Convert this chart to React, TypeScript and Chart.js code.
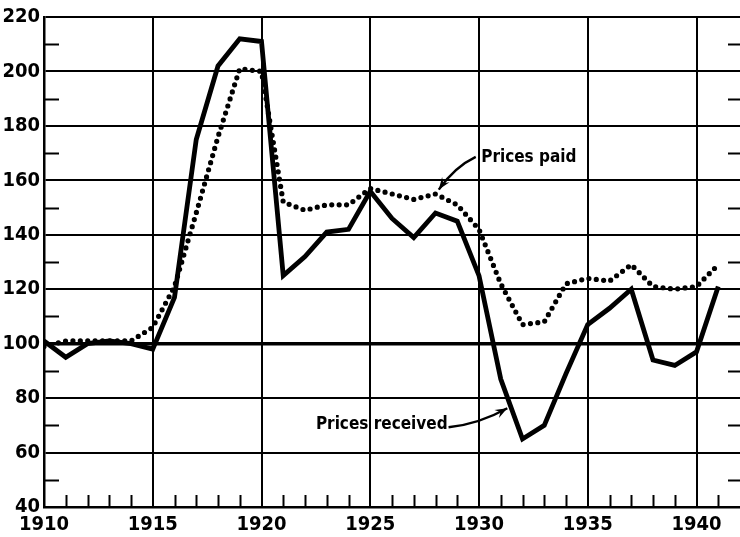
import { useEffect, useRef } from 'react';
import { Chart, registerables } from 'chart.js';

Chart.register(...registerables);

const years = [1910, 1911, 1912, 1913, 1914, 1915, 1916, 1917, 1918, 1919, 1920, 1921, 1922, 1923, 1924, 1925, 1926, 1927, 1928, 1929, 1930, 1931, 1932, 1933, 1934, 1935, 1936, 1937, 1938, 1939, 1940, 1941];
const pricesReceived = [101, 95, 100, 101, 100, 98, 117, 175, 202, 212, 211, 125, 132, 141, 142, 156, 146, 139, 148, 145, 125, 87, 65, 70, 89, 107, 113, 120, 94, 92, 97, 121];
const pricesPaid = [99, 101, 101, 101, 101, 106, 121, 148, 176, 201, 200, 152, 149, 151, 151, 157, 155, 153, 155, 151, 142, 122, 107, 108, 122, 124, 123, 129, 121, 120, 121, 129];
const xTickLabels = [1910, 1915, 1920, 1925, 1930, 1935, 1940];
const yTickLabels = [40, 60, 80, 100, 120, 140, 160, 180, 200, 220];
const labelPaid = 'Prices paid';
const labelReceived = 'Prices received';

const FONT = "'DejaVu Sans Condensed', 'Liberation Sans Narrow', 'DejaVu Sans', sans-serif";

function drawArrow(ctx: CanvasRenderingContext2D, x0: number, y0: number, cx: number, cy: number, x1: number, y1: number) {
  ctx.save();
  ctx.strokeStyle = '#000';
  ctx.fillStyle = '#000';
  ctx.lineWidth = 2.4;
  ctx.beginPath();
  ctx.moveTo(x0, y0);
  ctx.quadraticCurveTo(cx, cy, x1, y1);
  ctx.stroke();
  const ang = Math.atan2(y1 - cy, x1 - cx);
  const len = 13;
  const spread = 0.36;
  ctx.beginPath();
  ctx.moveTo(x1, y1);
  ctx.lineTo(x1 - len * Math.cos(ang - spread), y1 - len * Math.sin(ang - spread));
  ctx.lineTo(x1 - len * 0.6 * Math.cos(ang), y1 - len * 0.6 * Math.sin(ang));
  ctx.lineTo(x1 - len * Math.cos(ang + spread), y1 - len * Math.sin(ang + spread));
  ctx.closePath();
  ctx.fill();
  ctx.restore();
}

const decorPlugin = {
  id: 'decor',
  beforeDatasetsDraw(chart: any) {
    const { ctx, chartArea, scales } = chart;
    const xs = scales.x;
    const ys = scales.y;
    ctx.save();
    ctx.strokeStyle = '#000';
    ctx.lineWidth = 2;
    for (let yr = 1911; yr <= 1941; yr++) {
      if (yr % 5 === 0) continue;
      const px = Math.round(xs.getPixelForValue(yr)) + 0.5;
      ctx.beginPath();
      ctx.moveTo(px, chartArea.bottom);
      ctx.lineTo(px, chartArea.bottom - 12);
      ctx.stroke();
    }
    for (let v = 50; v <= 210; v += 20) {
      const py = Math.round(ys.getPixelForValue(v)) + 0.5;
      ctx.beginPath();
      ctx.moveTo(chartArea.left, py);
      ctx.lineTo(chartArea.left + 15, py);
      ctx.stroke();
      ctx.beginPath();
      ctx.moveTo(chartArea.right - 12, py);
      ctx.lineTo(chartArea.right, py);
      ctx.stroke();
    }
    ctx.restore();
  },
  afterDatasetsDraw(chart: any) {
    const { ctx, scales } = chart;
    const xs = scales.x;
    const ys = scales.y;
    const X = (v: number) => xs.getPixelForValue(v);
    const Y = (v: number) => ys.getPixelForValue(v);
    ctx.save();
    ctx.fillStyle = '#000';
    ctx.font = `bold 17px ${FONT}`;
    ctx.textBaseline = 'middle';
    ctx.textAlign = 'left';
    ctx.fillText(labelPaid, X(1930.1), Y(168.5));
    ctx.fillText(labelReceived, X(1922.5), Y(70.2));
    ctx.restore();
    drawArrow(ctx, X(1929.85), Y(168.6), X(1928.9), Y(165), X(1928.15), Y(156.6));
    drawArrow(ctx, X(1928.6), Y(69.3), X(1930.0), Y(70.5), X(1931.3), Y(76.3));
  },
};

export default function App() {
  const canvasRef = useRef<HTMLCanvasElement | null>(null);

  useEffect(() => {
    document.body.style.margin = '0';
    const canvas = canvasRef.current;
    if (!canvas) return;
    const chart = new Chart(canvas, {
      type: 'line',
      data: {
        datasets: [
          {
            label: labelReceived,
            data: years.map((yr, i) => ({ x: yr, y: pricesReceived[i] })),
            borderColor: '#000',
            borderWidth: 4.8,
            pointRadius: 0,
            tension: 0,
            fill: false,
          },
          {
            label: labelPaid,
            data: years.map((yr, i) => ({ x: yr, y: pricesPaid[i] })),
            borderColor: '#000',
            borderWidth: 5.2,
            borderDash: [0, 7.4],
            borderCapStyle: 'round',
            pointRadius: 0,
            tension: 0,
            fill: false,
          },
        ],
      },
      options: {
        animation: false,
        responsive: false,
        maintainAspectRatio: false,
        layout: { padding: { top: 17, right: 0, left: 0, bottom: 0 } },
        plugins: {
          legend: { display: false },
          tooltip: { enabled: false },
        },
        scales: {
          x: {
            type: 'linear',
            min: 1910,
            max: 1942,
            afterBuildTicks: (scale: any) => {
              scale.ticks = xTickLabels.map((v) => ({ value: v }));
            },
            afterFit: (scale: any) => {
              scale.height = 30;
            },
            ticks: {
              color: '#000',
              padding: 6,
              maxRotation: 0,
              autoSkip: false,
              font: { family: FONT, size: 20, weight: 'bold' },
              callback: (v: any) => String(v),
            },
            grid: { color: '#000', lineWidth: 2, drawTicks: false },
            border: { display: true, color: '#000', width: 2.5 },
          },
          y: {
            type: 'linear',
            min: 40,
            max: 220,
            afterBuildTicks: (scale: any) => {
              scale.ticks = yTickLabels.map((v) => ({ value: v }));
            },
            afterFit: (scale: any) => {
              scale.width = 44;
            },
            ticks: {
              color: '#000',
              padding: 4,
              autoSkip: false,
              font: { family: FONT, size: 20, weight: 'bold' },
              callback: (v: any) => String(v),
            },
            grid: {
              color: '#000',
              lineWidth: (c: any) => (c.tick && c.tick.value === 100 ? 3.5 : 2),
              drawTicks: false,
            },
            border: { display: true, color: '#000', width: 2.5 },
          },
        },
      },
      plugins: [decorPlugin],
    } as any);
    return () => chart.destroy();
  }, []);

  return (
    <div style={{ width: 740, height: 537, background: '#fff' }}>
      <canvas ref={canvasRef} width={740} height={537} style={{ display: 'block' }} />
    </div>
  );
}
